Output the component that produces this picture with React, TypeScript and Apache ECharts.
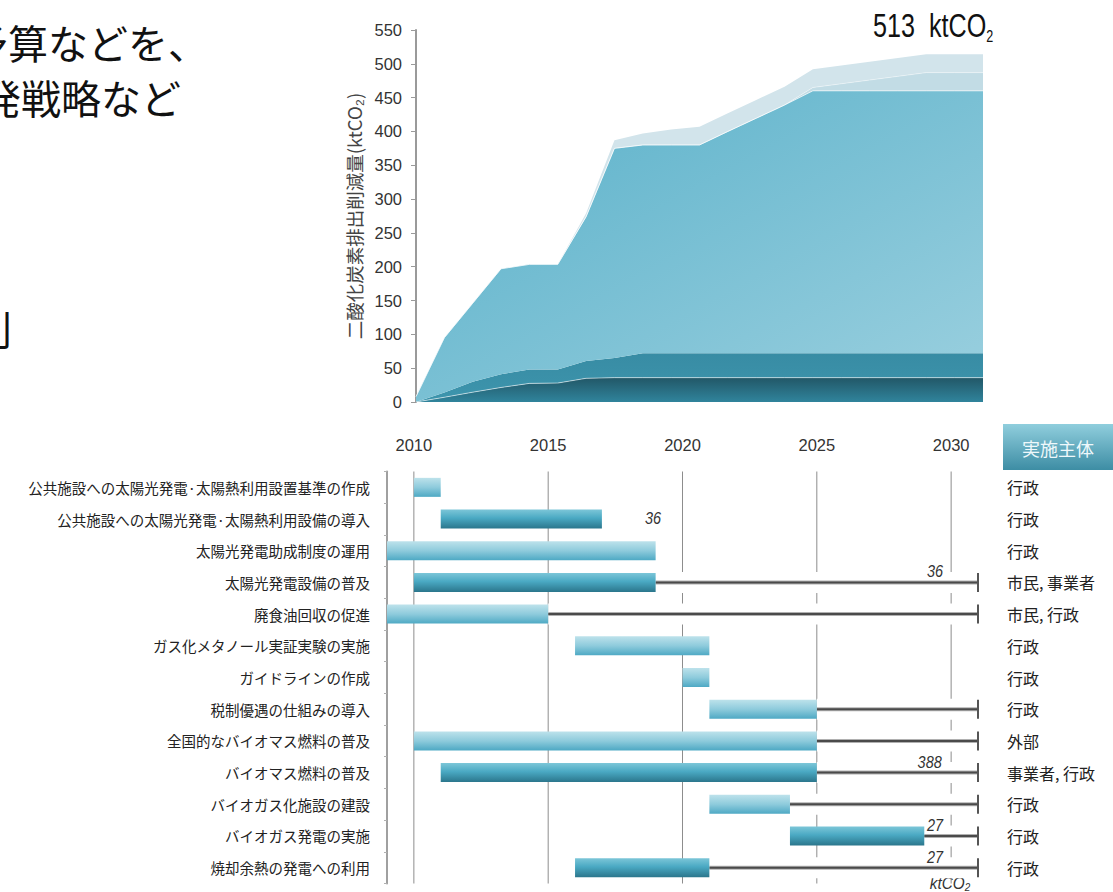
import React, { useEffect, useRef } from 'react';
import * as echarts from 'echarts';

// ---------- Top chart: cumulative CO2 reduction (ktCO2), stacked by measure ----------
const years = ['2010','2011','2012','2013','2014','2015','2016','2017','2018','2019','2020','2021','2022','2023','2024','2025','2026','2027','2028','2029','2030'];
const solarPublic = [0, 7, 14.5, 21.5, 27.5, 28, 35, 36, 36, 36, 36, 36, 36, 36, 36, 36, 36, 36, 36, 36, 36];
const solarSpread = [0, 7, 15.5, 19.5, 20.5, 20, 25.5, 29, 36, 36, 36, 36, 36, 36, 36, 36, 36, 36, 36, 36, 36];
const biomassFuel = [8, 81, 116, 156, 155.5, 155.5, 213.5, 310, 308, 308, 308, 328, 347.5, 367, 388, 388, 388, 388, 388, 388, 388];
const biogasPower = [0, 0, 0, 0, 0, 0, 0, 0, 0, 0, 0, 0, 0, 0, 5, 10.5, 16, 21.5, 27, 27, 27];
const wasteHeat = [0, 0, 0, 0, 0, 0, 5, 12, 17, 23, 27, 27, 27, 27, 27, 27, 27, 27, 27, 27, 27];
const yTickMax = 550;
const yTickStep = 50;
const totalLabel = '513';

// ---------- Bottom chart: roadmap ----------
const tasks = [
  '公共施設への太陽光発電·太陽熱利用設置基準の作成',
  '公共施設への太陽光発電·太陽熱利用設備の導入',
  '太陽光発電助成制度の運用',
  '太陽光発電設備の普及',
  '廃食油回収の促進',
  'ガス化メタノール実証実験の実施',
  'ガイドラインの作成',
  '税制優遇の仕組みの導入',
  '全国的なバイオマス燃料の普及',
  'バイオマス燃料の普及',
  'バイオガス化施設の建設',
  'バイオガス発電の実施',
  '焼却余熱の発電への利用',
];
const entities = ['行政', '行政', '行政', '市民, 事業者', '市民, 行政', '行政', '行政', '行政', '外部', '事業者, 行政', '行政', '行政', '行政'];
const starts = [2010, 2011, 2009, 2010, 2009, 2016, 2020, 2021, 2010, 2011, 2021, 2024, 2016];
const ends = [2011, 2017, 2019, 2019, 2015, 2021, 2021, 2025, 2025, 2025, 2024, 2029, 2021];
const continuesTo = [null, null, null, 2031, 2031, null, null, 2031, 2031, 2031, 2031, 2031, 2031];
const withReduction = [false, true, false, true, false, false, false, false, false, true, false, true, true];
const reductions = ['', '36', '', '36', '', '', '', '', '', '388', '', '27', '27'];
const reductionAt = [null, 2018.9, null, 2029.4, null, null, null, null, null, 2029.2, null, 2029.4, 2029.4];
const gridYears = [2010, 2015, 2020, 2025, 2030];
const timelineMin = 2009;
const timelineMax = 2031;

const NUM = "'Liberation Sans Narrow', 'Liberation Sans', Arial, sans-serif";
const JP = "'Noto Sans CJK JP', sans-serif";

const lg = (x2: number, y2: number, stops: [number, string][]) =>
  new echarts.graphic.LinearGradient(0, 0, x2, y2, stops.map(([offset, color]) => ({ offset, color })));

function buildOption() {
  const areaSeries = [
    { name: 'solarPublic', data: solarPublic, color: lg(0, 1, [[0, '#225767'], [1, '#30849c']]), line: 'rgba(255,255,255,0.55)' },
    { name: 'solarSpread', data: solarSpread, color: lg(0, 1, [[0, '#388ca4'], [1, '#3d95ad']]), line: 'rgba(255,255,255,0)' },
    { name: 'biomassFuel', data: biomassFuel, color: lg(1, 1, [[0, '#58b0c9'], [1, '#9bd0df']]), line: 'rgba(255,255,255,0.6)' },
    { name: 'biogasPower', data: biogasPower, color: '#c2dce5', line: 'rgba(255,255,255,0.4)' },
    { name: 'wasteHeat', data: wasteHeat, color: '#d2e4eb', line: 'rgba(255,255,255,0)' },
  ].map((s) => ({
    type: 'line',
    name: s.name,
    xAxisIndex: 0,
    yAxisIndex: 0,
    stack: 'total',
    data: s.data,
    symbol: 'none',
    showSymbol: false,
    lineStyle: { width: 1, color: s.line },
    areaStyle: { color: s.color, opacity: 1 },
    z: 2,
  }));

  const lightBar = () => lg(0, 1, [[0, '#bde2eb'], [0.5, '#8ecbdc'], [1, '#4ea9c4']]);
  const darkBar = () => lg(0, 1, [[0, '#7cc6d8'], [0.45, '#4aa9c3'], [1, '#2b768c']]);

  const gridSeries = {
    type: 'custom',
    xAxisIndex: 1,
    yAxisIndex: 1,
    z: 1,
    silent: true,
    data: gridYears.map((y) => [y, 0]),
    encode: { x: 0, y: 1 },
    renderItem: (params: any, api: any) => {
      const x = api.coord([api.value(0), 0])[0];
      const cs = params.coordSys;
      return {
        type: 'line',
        shape: { x1: x, y1: cs.y, x2: x, y2: cs.y + cs.height },
        style: { stroke: '#8d8d8d', lineWidth: 1 },
      };
    },
  };

  const taskSeries = {
    type: 'custom',
    xAxisIndex: 1,
    yAxisIndex: 1,
    z: 3,
    silent: true,
    data: tasks.map((_, i) => [starts[i], i]),
    encode: { x: 0, y: 1 },
    renderItem: (params: any, api: any) => {
      const i = params.dataIndex;
      const [x0, yc] = api.coord([starts[i], i]);
      const x1 = api.coord([ends[i], i])[0];
      const h = 19;
      const children: any[] = [];
      const cont = continuesTo[i];
      if (cont != null) {
        const xw = api.coord([cont, i])[0];
        children.push({ type: 'rect', shape: { x: x1, y: yc - h / 2 - 1, width: xw - x1, height: h + 2 }, style: { fill: '#ffffff' } });
        children.push({ type: 'line', shape: { x1, y1: yc, x2: xw, y2: yc }, style: { stroke: '#b0b0b0', lineWidth: 4 } });
        children.push({ type: 'line', shape: { x1, y1: yc, x2: xw, y2: yc }, style: { stroke: '#4a4a4a', lineWidth: 2 } });
        children.push({ type: 'line', shape: { x1: xw, y1: yc - h / 2, x2: xw, y2: yc + h / 2 }, style: { stroke: '#555555', lineWidth: 2 } });
      }
      children.push({
        type: 'rect',
        shape: { x: x0, y: yc - h / 2, width: x1 - x0, height: h },
        style: { fill: withReduction[i] ? darkBar() : lightBar() },
      });
      const at = reductionAt[i];
      if (reductions[i] && at != null) {
        const lx = api.coord([at, i])[0];
        children.push({
          type: 'text',
          x: lx,
          y: cont != null ? yc - 11 : yc - 1,
          scaleX: 0.85,
          style: {
            text: reductions[i],
            fontSize: 17,
            fontStyle: 'italic',
            fontFamily: NUM,
            fill: '#333333',
            align: 'center',
            verticalAlign: 'middle',
          },
        });
      }
      return { type: 'group', children };
    },
  };

  return {
    animation: false,
    backgroundColor: '#ffffff',
    textStyle: { fontFamily: JP },
    grid: [
      { left: 416, top: 30, width: 567, height: 372, outerBoundsMode: 'none' },
      { left: 387, top: 471.5, width: 591, height: 412, outerBoundsMode: 'none' },
    ],
    xAxis: [
      { type: 'category', gridIndex: 0, data: years, boundaryGap: false, show: false },
      {
        type: 'value',
        gridIndex: 1,
        position: 'top',
        min: timelineMin,
        max: timelineMax,
        interval: 1,
        axisLine: { show: false },
        axisTick: { show: false },
        splitLine: { show: false },
        axisLabel: {
          margin: 18,
          fontSize: 16.5,
          fontFamily: NUM,
          color: '#333333',
          formatter: (v: number) => (gridYears.indexOf(v) >= 0 ? String(v) : ''),
        },
      },
    ],
    yAxis: [
      {
        type: 'value',
        gridIndex: 0,
        min: 0,
        max: yTickMax,
        interval: yTickStep,
        name: '二酸化炭素排出削減量(ktCO₂)',
        nameLocation: 'middle',
        nameRotate: 90,
        nameGap: 50,
        nameTextStyle: { fontSize: 18.5, color: '#444444', fontFamily: JP },
        axisLine: { show: true, lineStyle: { color: '#9a9a9a', width: 2 } },
        axisTick: { show: true, length: 5, lineStyle: { color: '#9a9a9a' } },
        splitLine: { show: false },
        axisLabel: { margin: 14, fontSize: 16.5, fontFamily: NUM, color: '#333333' },
      },
      {
        type: 'category',
        gridIndex: 1,
        data: tasks,
        inverse: true,
        axisLine: { show: true, lineStyle: { color: '#a0a0a0', width: 2 } },
        axisTick: { show: true, length: 3, lineStyle: { color: '#b0b0b0' } },
        splitLine: { show: false },
        axisLabel: { margin: 17, fontSize: 14.5, color: '#222222', fontFamily: JP },
      },
      {
        type: 'category',
        gridIndex: 1,
        position: 'right',
        data: entities,
        inverse: true,
        axisLine: { show: false },
        axisTick: { show: false },
        splitLine: { show: false },
        axisLabel: { margin: 29, fontSize: 16, color: '#222222', fontFamily: JP, align: 'left' },
      },
    ],
    graphic: [
      { type: 'text', x: -32, y: 42, style: { text: '予算などを、', fontSize: 40, fontFamily: JP, fill: '#111111', align: 'left', verticalAlign: 'middle' } },
      { type: 'text', x: -19, y: 97, style: { text: '発戦略など', fontSize: 40, fontFamily: JP, fill: '#111111', align: 'left', verticalAlign: 'middle' } },
      { type: 'text', x: -28, y: 328, style: { text: '別', fontSize: 40, fontFamily: JP, fill: '#111111', align: 'left', verticalAlign: 'middle' } },
      {
        type: 'text',
        x: 873,
        y: 25,
        scaleX: 0.74,
        style: {
          text: `{a|${totalLabel}  ktCO}{b|2}`,
          align: 'left',
          verticalAlign: 'middle',
          rich: {
            a: { fontSize: 34, fontFamily: NUM, fill: '#111111', lineHeight: 38 },
            b: { fontSize: 17, fontFamily: NUM, fill: '#111111', lineHeight: 19, verticalAlign: 'bottom' },
          },
        },
      },
      {
        type: 'rect',
        shape: { x: 1003, y: 424, width: 110, height: 46 },
        style: { fill: lg(0, 1, [[0, '#90cedd'], [1, '#3d8da4']]) },
      },
      {
        type: 'text',
        x: 1058,
        y: 448,
        style: { text: '実施主体', fontSize: 18, fontFamily: JP, fill: '#eef8fb', align: 'center', verticalAlign: 'middle' },
      },
      {
        type: 'text',
        x: 950,
        y: 883,
        scaleX: 0.9,
        style: {
          text: '{a|ktCO}{b|2}',
          align: 'center',
          verticalAlign: 'middle',
          rich: {
            a: { fontSize: 17, fontStyle: 'italic', fontFamily: NUM, fill: '#333333', lineHeight: 20 },
            b: { fontSize: 11, fontStyle: 'italic', fontFamily: NUM, fill: '#333333', lineHeight: 12, verticalAlign: 'bottom' },
          },
        },
      },
    ],
    series: [...areaSeries, gridSeries, taskSeries],
  };
}

export default function App() {
  const ref = useRef<HTMLDivElement>(null);
  useEffect(() => {
    if (!ref.current) return;
    const chart = echarts.init(ref.current, null, { renderer: 'svg' });
    chart.setOption(buildOption() as any);
    return () => chart.dispose();
  }, []);
  return (
    <div
      ref={ref}
      style={{ position: 'absolute', left: 0, top: 0, width: 1113, height: 892, background: '#ffffff' }}
    />
  );
}
